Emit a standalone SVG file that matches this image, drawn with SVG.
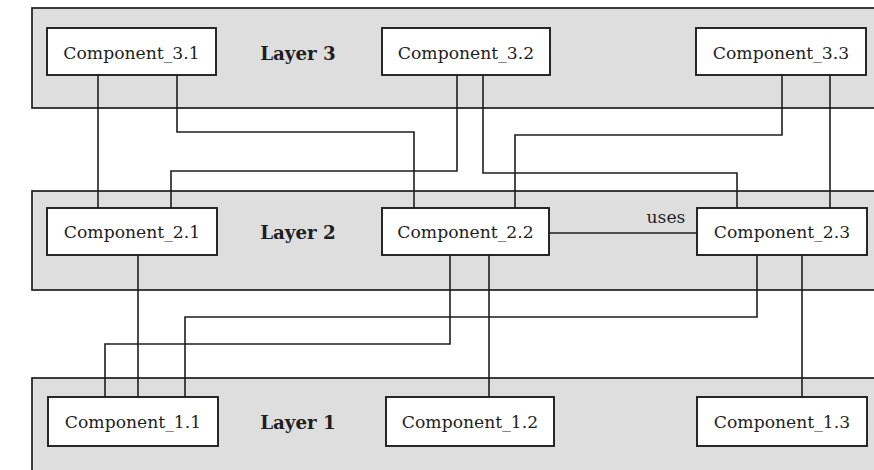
<svg xmlns="http://www.w3.org/2000/svg" width="874" height="470" viewBox="0 0 874 470">
<style>
.layer{fill:#dedede;stroke:#1e1e1e;stroke-width:1.7}
.box{fill:#fff;stroke:#1e1e1e;stroke-width:1.9}
.t{font-family:"DejaVu Serif","Liberation Serif",serif;font-size:17.2px;fill:#1e1e1e;text-anchor:middle}
.lt{font-family:"DejaVu Serif","Liberation Serif",serif;font-size:18.3px;font-weight:bold;fill:#1e1e1e;text-anchor:middle}
.c{fill:none;stroke:#1e1e1e;stroke-width:1.6}
</style>
<rect width="874" height="470" fill="#fff"/>
<g id="layer3"><rect class="layer" x="32" y="8" width="860" height="100"/><text class="lt" x="298" y="60">Layer 3</text></g>
<g id="layer2"><rect class="layer" x="32" y="191" width="860" height="99"/><text class="lt" x="298" y="239">Layer 2</text></g>
<g id="layer1"><rect class="layer" x="32" y="378" width="860" height="110"/><text class="lt" x="298" y="429">Layer 1</text></g>
<g id="connectors">
<path class="c" d="M98 75V208"/>
<path class="c" d="M177 75V132H414V208"/>
<path class="c" d="M457 75V171H171V208"/>
<path class="c" d="M483 75V173H737V208"/>
<path class="c" d="M782 75V135H515V208"/>
<path class="c" d="M830 75V208"/>
<path class="c" d="M549 233H697"/>
<text class="t" x="666" y="223">uses</text>
<path class="c" d="M138 255V397"/>
<path class="c" d="M450 255V344H105V397"/>
<path class="c" d="M489 255V397"/>
<path class="c" d="M757 255V317H185V397"/>
<path class="c" d="M802 255V397"/>
</g>
<g id="c31"><rect class="box" x="47" y="28" width="169" height="47"/><text class="t" x="131.5" y="59">Component_3.1</text></g>
<g id="c32"><rect class="box" x="382" y="28" width="168" height="47"/><text class="t" x="466" y="59">Component_3.2</text></g>
<g id="c33"><rect class="box" x="696" y="28" width="170" height="47"/><text class="t" x="781" y="59">Component_3.3</text></g>
<g id="c21"><rect class="box" x="47" y="208" width="170" height="47"/><text class="t" x="132" y="238">Component_2.1</text></g>
<g id="c22"><rect class="box" x="382" y="208" width="167" height="47"/><text class="t" x="465.5" y="238">Component_2.2</text></g>
<g id="c23"><rect class="box" x="697" y="208" width="170" height="47"/><text class="t" x="782" y="238">Component_2.3</text></g>
<g id="c11"><rect class="box" x="48" y="397" width="170" height="49"/><text class="t" x="133" y="428">Component_1.1</text></g>
<g id="c12"><rect class="box" x="386" y="397" width="168" height="49"/><text class="t" x="470" y="428">Component_1.2</text></g>
<g id="c13"><rect class="box" x="697" y="397" width="170" height="49"/><text class="t" x="782" y="428">Component_1.3</text></g>
</svg>
